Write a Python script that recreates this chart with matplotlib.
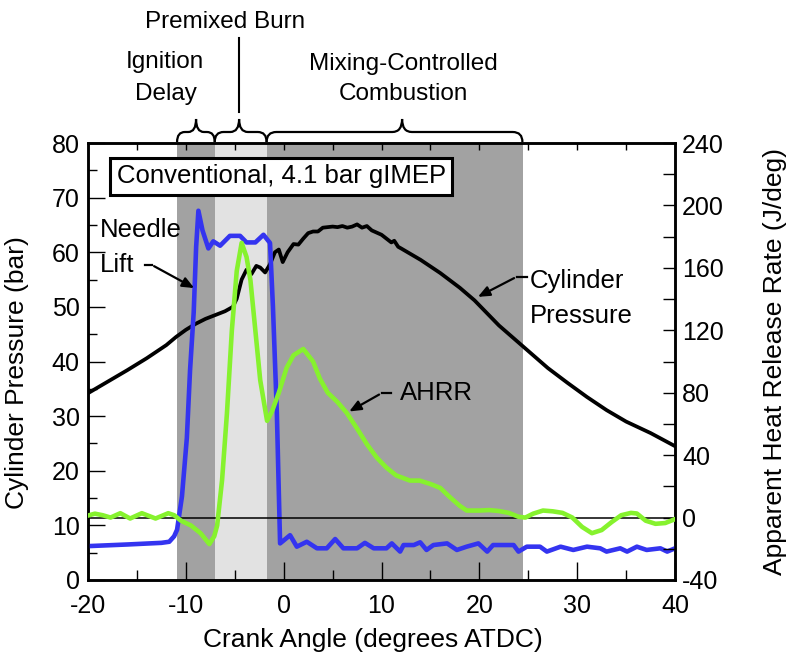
import numpy as np
import matplotlib
matplotlib.use("Agg")
import matplotlib.pyplot as plt
from matplotlib.path import Path
from matplotlib.patches import PathPatch
from matplotlib.transforms import blended_transform_factory

plt.rcParams['font.family'] = ['Liberation Sans', 'DejaVu Sans']
plt.rcParams['axes.unicode_minus'] = False

# cylinder pressure (bar)
cp_ca = [-20, -18, -16, -14, -12, -11, -10, -9, -8, -7, -6, -5.2, -4.8, -4.3, -3.8, -3.3,
         -2.8, -2.4, -1.9, -1.4, -0.9, -0.5, -0.1, 0.4, 1, 1.5, 2, 2.5, 3, 3.5, 4, 4.5, 5,
         5.5, 6, 6.5, 7, 7.5, 8, 8.5, 9, 9.5, 10, 10.5, 11, 11.3, 11.7, 12, 14, 16, 18, 19.5,
         22, 24.5, 27, 29, 31, 33, 35, 37.5, 40]
cp_bar = [34.2, 36.3, 38.4, 40.6, 43, 44.5, 45.8, 46.9, 47.8, 48.5, 49.2, 50, 51.5, 55, 56.8, 56,
          57.5, 57.2, 56.3, 57.8, 60, 60.5, 58.2, 60, 61.5, 61.4, 62.5, 63.5, 63.8, 63.8, 64.5, 64.6, 64.7,
          64.6, 64.8, 64.5, 64.7, 65.1, 64.5, 64.8, 64, 63.6, 63.2, 62.5, 61.8, 62.1, 61, 60.7, 58.6, 56.2, 53.5, 51.2,
          46.6, 42.7, 38.8, 36.1, 33.5, 31.1, 29, 26.9, 24.5]

# needle lift (plotted on pressure scale)
nl_ca = [-20, -16, -12.5, -11.7, -11.2, -10.9, -10.4, -9.9, -9.57, -9.2, -8.95, -8.72, -8.3, -7.7,
         -7.2, -6.5, -5.5, -4.46, -3.8, -2.9, -2.07, -1.4, -1.1, -0.7, -0.37, 0.65, 1.34, 2.36, 3.4,
         4.4, 5.26, 6.1, 7.5, 8.3, 9.2, 10.5, 11.05, 11.9, 12.25, 13.3, 13.95, 14.6, 15.3, 16.7,
         17.7, 18.7, 19.9, 20.8, 21.4, 23.5, 24.0, 24.85, 26.2, 26.9, 28.3, 29.6, 31, 32.35, 33,
         34.4, 35.1, 36.1, 37.1, 38.5, 39.2, 40]
nl_val = [6.2, 6.5, 6.8, 7.0, 8, 9.2, 15.3, 26, 38.5, 49, 61, 67.6, 64, 60.7,
          62, 61.2, 63, 63, 61.8, 61.8, 63.2, 61.7, 50, 30.6, 6.7, 8.2, 6.1, 7.0, 5.8,
          5.8, 7.5, 5.8, 5.8, 6.8, 5.8, 5.8, 6.7, 5.2, 6.4, 6.4, 6.9, 5.5, 6.4, 6.7,
          5.5, 6.1, 6.7, 5.2, 6.4, 6.4, 5.2, 6.1, 6.1, 5.2, 6.1, 5.5, 6.1, 5.8, 5.2,
          5.8, 5.2, 6.1, 5.5, 5.8, 5.2, 5.8]

# apparent heat release rate (J/deg)
hr_ca = [-20, -19.3, -18.5, -17.7, -16.7, -15.7, -14.5, -13.1, -11.8, -11.2, -10.5, -9.5, -8.5,
         -7.6, -7.1, -6.8, -6.3, -5.8, -5.3, -4.8, -4.3, -3.8, -3.4, -2.9, -2.4, -1.7, -1.2, -0.5,
         0.3, 1, 2, 3, 3.7, 4.5, 5.5, 6.45, 7.5, 8.5, 9.5, 10.5, 11.5, 12.9, 13.9, 15, 16, 17, 18,
         18.7, 20, 21, 22, 23, 24, 24.7, 25.5, 26.5, 27.5, 28.5, 29.5, 30.5, 31.5, 32.5, 33.5,
         34.5, 35.5, 36.1, 37, 38, 39, 40]
hr_val = [1.3, 2.5, 1.5, 0, 2.8, -0.6, 2.8, -0.6, 2.8, 1.5, -2, -5, -10,
          -17, -12, -5, 24, 67, 120, 158, 176, 167, 152, 120, 88, 62, 68, 80,
          96, 104, 108, 100, 89, 80, 74, 67, 57, 47, 38.5, 32, 27, 23.7, 23.7, 21.5, 19, 13, 7.5,
          4.5, 4.5, 4.8, 4.2, 3, 0.5, 0, 2.5, 4.5, 4, 3, 0, -6, -10, -8, -3,
          1.5, 3, 2.6, -2, -4, -3.5, -1]

# combustion phases (crank angle)
phase_edges = [-10.9, -7.05, -1.75, 24.5]

fig = plt.figure(figsize=(7.91, 6.53), dpi=100)
ax = fig.add_axes([0.1113, 0.1118, 0.7421, 0.6692])
ax2 = ax.twinx()

ax.axvspan(phase_edges[0], phase_edges[1], color='#a2a2a2', lw=0, zorder=0)
ax.axvspan(phase_edges[1], phase_edges[2], color='#e2e2e2', lw=0, zorder=0)
ax.axvspan(phase_edges[2], phase_edges[3], color='#a2a2a2', lw=0, zorder=0)

ax.plot(cp_ca, cp_bar, color='black', lw=2.7, zorder=3)
ax.plot(nl_ca, nl_val, color='#3434f0', lw=3.3, zorder=4)
ax2.axhline(0, color='black', lw=1.1, zorder=1)
ax2.plot(hr_ca, hr_val, color='#86f22e', lw=3.3, zorder=3)

ax.set_xlim(-20, 40)
ax.set_ylim(0, 80)
ax2.set_ylim(-40, 240)

ax.set_xticks(range(-20, 41, 10))
ax.set_xticks(range(-15, 40, 10), minor=True)
ax.set_yticks(range(0, 81, 10))
ax.set_yticks(range(5, 80, 10), minor=True)
ax2.set_yticks(range(-40, 241, 40))
ax2.set_yticks(range(-20, 240, 40), minor=True)

ax.tick_params(axis='x', which='major', direction='in', length=13, width=1, labelsize=18, pad=10)
ax.tick_params(axis='x', which='minor', direction='in', length=7, width=1)
ax.tick_params(axis='y', which='major', direction='in', length=12, width=1, labelsize=18, pad=6)
ax.tick_params(axis='y', which='minor', direction='in', length=6.5, width=1)
ax2.tick_params(axis='y', which='both', direction='in', length=9, width=1, labelsize=18, pad=5)

top = ax.secondary_xaxis('top')
top.set_xticks(range(-15, 40, 5))
top.tick_params(direction='in', length=5, width=1, labeltop=False)
top.spines['top'].set_visible(False)

for a in (ax, ax2):
    for s in a.spines.values():
        s.set_linewidth(1.8)

ax.set_xlabel('Crank Angle (degrees ATDC)', fontsize=19)
ax.xaxis.set_label_coords(0.485, -0.11)
ax.set_ylabel('Cylinder Pressure (bar)', fontsize=19)
ax.yaxis.set_label_coords(-0.1, 0.475)
ax2.set_ylabel('Apparent Heat Release Rate (J/deg)', fontsize=19, rotation=90)
ax2.yaxis.set_label_coords(1.15, 0.5)

ax.text(-0.27, 73.9, 'Conventional, 4.1 bar gIMEP', fontsize=18.5, ha='center', va='center',
        bbox=dict(boxstyle='square,pad=0.25', fc='white', ec='black', lw=2.2), zorder=6)

# labels with arrows
arrow = dict(arrowstyle='-|>,head_length=0.7,head_width=0.3', color='black', lw=1.6)
ax.text(-18.8, 64.1, 'Needle', fontsize=18.5, ha='left', va='center', zorder=6)
ax.text(-18.8, 57.7, 'Lift', fontsize=18.5, ha='left', va='center', zorder=6)
ax.plot([-14.2, -13.5], [57.7, 57.7], color='black', lw=1.6, zorder=6)
ax.annotate('', xy=(-8.9, 53.2), xytext=(-13.5, 57.7), arrowprops=arrow, zorder=6)

ax.text(25.2, 54.8, 'Cylinder', fontsize=18.5, ha='left', va='center', zorder=6)
ax.text(25.2, 48.4, 'Pressure', fontsize=18.5, ha='left', va='center', zorder=6)
ax.plot([24.85, 23.8], [55.5, 55.5], color='black', lw=1.6, zorder=6)
ax.annotate('', xy=(19.6, 51.6), xytext=(23.8, 55.5), arrowprops=arrow, zorder=6)

ax.text(11.9, 34.2, 'AHRR', fontsize=18.5, ha='left', va='center', zorder=6)
ax.plot([11.0, 10.0], [34.2, 34.2], color='black', lw=1.6, zorder=6)
ax.annotate('', xy=(6.45, 30.6), xytext=(10.0, 34.2), arrowprops=arrow, zorder=6)

# phase labels and braces above the axes
H = 653.0
def fy(py):
    return 1 - py / H

fig.text(225 / 791, fy(22), 'Premixed Burn', fontsize=17.5, ha='center', va='center')
fig.text(165 / 791, fy(62), 'Ignition', fontsize=17.5, ha='center', va='center')
fig.text(166 / 791, fy(94), 'Delay', fontsize=17.5, ha='center', va='center')
fig.text(403 / 791, fy(64), 'Mixing-Controlled', fontsize=17.5, ha='center', va='center')
fig.text(403 / 791, fy(94), 'Combustion', fontsize=17.5, ha='center', va='center')

bt = blended_transform_factory(ax.transData, fig.transFigure)
ax.plot([-4.56, -4.56], [fy(38), fy(112)], color='black', lw=1.5, transform=bt, clip_on=False)

def brace(x0, x1, xt, r):
    yb, ym, yt = fy(142), fy(132), fy(119)
    verts = [(x0, yb), (x0, ym), (x0 + r, ym), (xt - r, ym), (xt, ym), (xt, yt),
             (xt, ym), (xt + r, ym), (x1 - r, ym), (x1, ym), (x1, yb)]
    codes = [Path.MOVETO, Path.CURVE3, Path.CURVE3, Path.LINETO, Path.CURVE3, Path.CURVE3,
             Path.CURVE3, Path.CURVE3, Path.LINETO, Path.CURVE3, Path.CURVE3]
    p = PathPatch(Path(verts, codes), fc='none', ec='black', lw=1.6, transform=bt, clip_on=False)
    ax.add_artist(p)

brace(-10.9, -7.05, -8.96, 0.8)
brace(-7.05, -1.75, -4.56, 0.9)
brace(-1.75, 24.4, 12.1, 1.0)

fig.savefig('out.png', dpi=100, facecolor='white')
